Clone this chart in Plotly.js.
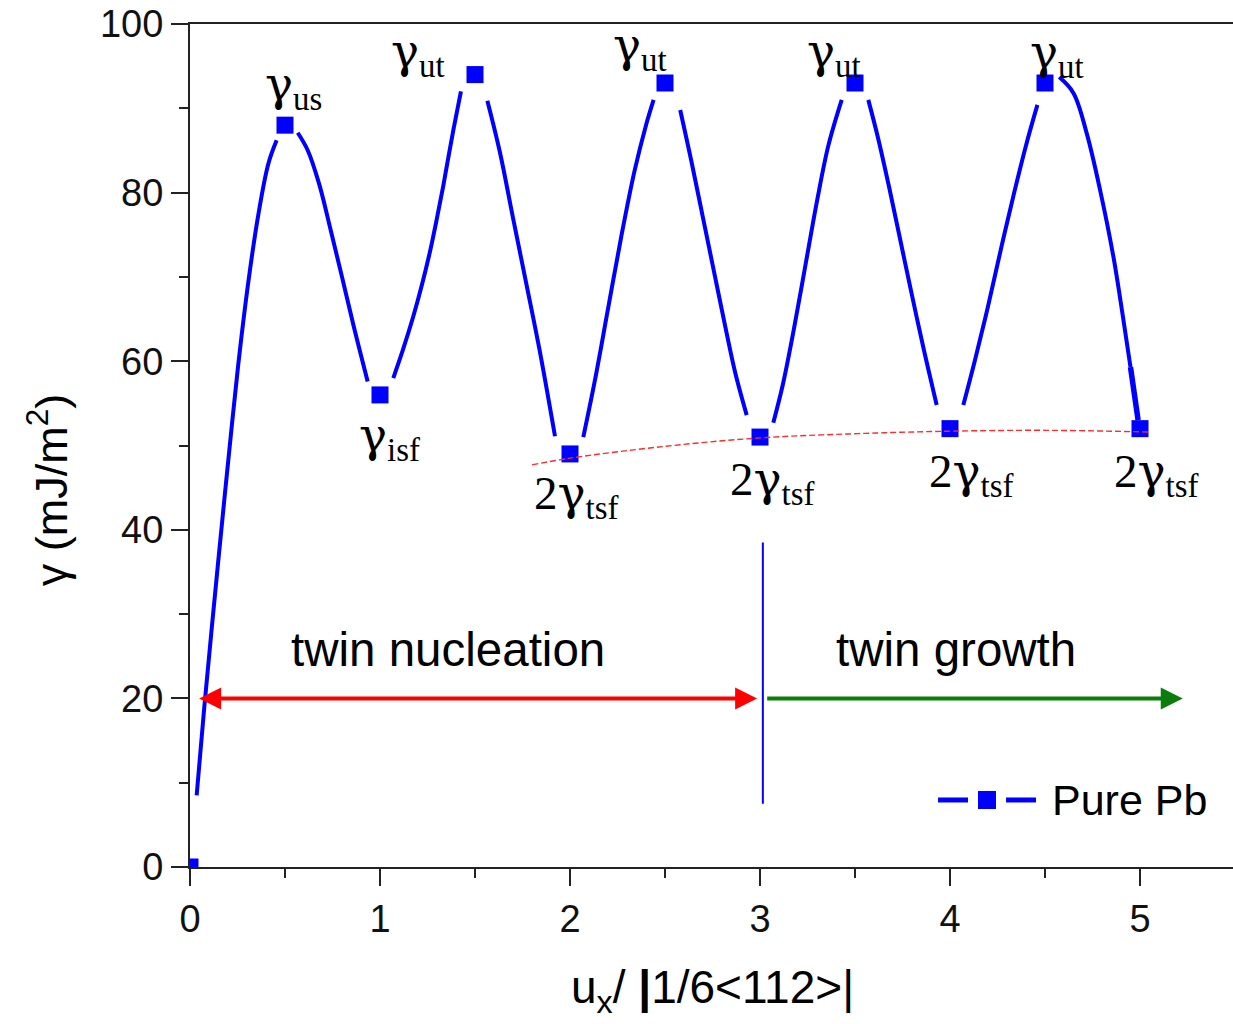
<!DOCTYPE html>
<html>
<head>
<meta charset="utf-8">
<script src="https://cdn.plot.ly/plotly-3.0.1.min.js"></script>
<style>
  html, body { margin: 0; padding: 0; background: #ffffff; overflow: hidden; }
  #chart { width: 1233px; height: 1024px; }
</style>
</head>
<body>
<div id="chart"></div>
<script>
// Generalized planar fault energy of pure Pb along the twinning path
const uX = [0, 0.5, 1, 1.5, 2, 2.5, 3, 3.5, 4, 4.5, 5];
const gammaPb = [0, 88, 56, 94, 49, 93, 51, 93, 52, 93, 52];

// Continuous energy curve, one piece between each pair of computed points
const curveX = [
  0.035, 0.075, 0.15, 0.20, 0.254, 0.307, 0.359, 0.412, 0.456, null,
  0.567, 0.62, 0.68, 0.74, 0.80, 0.86, 0.935, null,
  1.07, 1.12, 1.175, 1.22, 1.263, 1.30, 1.333, 1.36, 1.386, 1.426, null,
  1.565, 1.63, 1.70, 1.77, 1.84, 1.921, null,
  2.07, 2.13, 2.20, 2.27, 2.34, 2.40, 2.44, null,
  2.58, 2.64, 2.70, 2.76, 2.82, 2.87, 2.93, null,
  3.07, 3.12, 3.18, 3.24, 3.30, 3.36, 3.43, null,
  3.57, 3.62, 3.68, 3.74, 3.80, 3.86, 3.93, null,
  4.07, 4.13, 4.20, 4.27, 4.34, 4.40, 4.46, null,
  4.575, 4.65, 4.72, 4.79, 4.86, 4.91, 4.95
];
const curveY = [
  8.5, 18.9, 36.6, 47.9, 59.6, 69.4, 77.3, 83.4, 86.2, null,
  87.1, 85.0, 81.0, 75.6, 70.0, 64.3, 57.6, null,
  58.0, 61.3, 65.3, 69.0, 73.0, 77.0, 80.8, 84.2, 87.4, 92.0, null,
  90.9, 84.9, 77.0, 69.2, 61.3, 51.1, null,
  51.0, 57.6, 66.2, 74.8, 82.6, 88.0, 91.0, null,
  89.8, 83.6, 77.0, 70.4, 63.8, 58.6, 53.6, null,
  52.7, 57.2, 64.0, 71.5, 79.0, 85.6, 91.0, null,
  91.0, 86.6, 80.6, 74.2, 67.8, 61.6, 54.8, null,
  54.8, 60.0, 66.5, 73.5, 80.2, 85.6, 90.4, null,
  93.7, 91.8, 87.0, 80.3, 72.4, 65.3, 59.3
];
// Final steep drop into the last twin position
const tailX = [4.95, 4.99];
const tailY = [59.3, 53.0];

// Guide through the twin stacking fault minima
const tsfGuideX = [1.8, 2.0, 2.5, 3.0, 3.5, 4.0, 4.5, 5.05];
const tsfGuideY = [47.7, 48.5, 49.9, 50.9, 51.4, 51.7, 51.8, 51.6];

// Point labels (index into uX / gammaPb)
const labelIndex = [1, 2, 3, 4, 5, 6, 7, 8, 9, 10];
const labelPrefix = ['', '', '', '2', '', '2', '', '2', '', '2'];
const labelSub = ['us', 'isf', 'ut', 'tsf', 'ut', 'tsf', 'ut', 'tsf', 'ut', 'tsf'];
const labelShiftX = [8, 9, -57, 6, -25, 12, -21, 21, 12, 16];
const labelShiftY = [39, -43, 21, -42, 36, -44, 30, -45, 29, -45];

// Regime arrows and divider
const nucleationSpan = [0.04, 2.985];
const growthSpan = [3.03, 5.225];
const arrowLevel = 20;
const dividerX = 3.015;
const dividerSpan = [7.5, 38.5];
const regimeText = ['twin nucleation', 'twin growth'];
const regimeX = [1.36, 4.03];
const regimeY = [22.4, 22.4];

const blue = '#0000ff';
const serif = '"Liberation Serif", "Times New Roman", serif';
const greekSerif = '"DejaVu Serif", "Liberation Serif", serif';
const sans = '"Liberation Sans", Arial, sans-serif';

const traces = [
  {
    x: curveX, y: curveY, type: 'scatter', mode: 'lines',
    line: { color: blue, width: 4, shape: 'spline', smoothing: 1 },
    connectgaps: false, showlegend: false, hoverinfo: 'skip'
  },
  {
    x: tailX, y: tailY, type: 'scatter', mode: 'lines',
    line: { color: blue, width: 5.5 }, showlegend: false, hoverinfo: 'skip'
  },
  {
    x: uX, y: gammaPb, type: 'scatter', mode: 'markers', name: 'Pure Pb',
    marker: { symbol: 'square', size: 17, color: blue },
    cliponaxis: true, showlegend: false
  },
  {
    x: tsfGuideX, y: tsfGuideY, type: 'scatter', mode: 'lines',
    line: { color: '#ff2a2a', width: 1.4, dash: '6px,3px', shape: 'spline' },
    showlegend: false, hoverinfo: 'skip'
  }
];

const annotations = [];
labelIndex.forEach((idx, k) => {
  annotations.push({
    x: uX[idx], y: gammaPb[idx], xref: 'x', yref: 'y',
    text: labelPrefix[k] + '<span style="font-family:' + greekSerif.replace(/"/g, "'") + '">γ</span><sub>' + labelSub[k] + '</sub>',
    showarrow: false,
    xanchor: 'center', yanchor: 'middle',
    xshift: labelShiftX[k], yshift: labelShiftY[k],
    font: { family: serif, size: 47, color: '#000000' }
  });
});

// twin nucleation: double-headed red arrow
annotations.push({
  x: nucleationSpan[1], y: arrowLevel, ax: nucleationSpan[0], ay: arrowLevel,
  xref: 'x', yref: 'y', axref: 'x', ayref: 'y', text: '',
  showarrow: true, arrowhead: 2, arrowside: 'end+start', arrowsize: 1.1,
  arrowwidth: 4, arrowcolor: '#ff0000'
});
// twin growth: green arrow
annotations.push({
  x: growthSpan[1], y: arrowLevel, ax: growthSpan[0], ay: arrowLevel,
  xref: 'x', yref: 'y', axref: 'x', ayref: 'y', text: '',
  showarrow: true, arrowhead: 2, arrowsize: 1.1,
  arrowwidth: 4, arrowcolor: '#0b7d0b'
});
regimeText.forEach((t, k) => {
  annotations.push({
    x: regimeX[k], y: regimeY[k], xref: 'x', yref: 'y', text: t,
    showarrow: false, xanchor: 'center', yanchor: 'bottom',
    font: { family: sans, size: 47.5, color: '#000000' }
  });
});

// Axis titles
annotations.push({
  x: -0.136, y: 0.4472, xref: 'paper', yref: 'paper',
  text: 'γ (mJ/m<sup>2</sup>)', textangle: -90, showarrow: false,
  xanchor: 'center', yanchor: 'middle',
  font: { family: sans, size: 45, color: '#000000' }
});
annotations.push({
  x: 0.5005, y: -0.147, xref: 'paper', yref: 'paper',
  text: 'u<sub>x</sub>/ <b>|</b>1/6&lt;112&gt;|', showarrow: false,
  xanchor: 'center', yanchor: 'middle',
  font: { family: sans, size: 46, color: '#000000' }
});

// Legend entry
annotations.push({
  x: 0.8245, y: 0.0795, xref: 'paper', yref: 'paper', text: 'Pure Pb',
  showarrow: false, xanchor: 'left', yanchor: 'middle',
  font: { family: sans, size: 43, color: '#000000' }
});

// Source note running off the right edge
annotations.push({
  x: 1.0, y: -0.041, xref: 'paper', yref: 'paper',
  text: '<i>S</i><br><i>a</i><br><i>M</i>', showarrow: false,
  xanchor: 'left', yanchor: 'top', align: 'left', xshift: 31,
  font: { family: sans, size: 33, color: '#33339a' }
});

const shapes = [
  {
    type: 'line', xref: 'x', yref: 'y',
    x0: dividerX, x1: dividerX, y0: dividerSpan[0], y1: dividerSpan[1],
    line: { color: blue, width: 2 }
  },
  // legend symbol
  { type: 'line', xref: 'paper', yref: 'paper', x0: 0.7172, x1: 0.7459, y0: 0.0795, y1: 0.0795,
    line: { color: blue, width: 5 } },
  { type: 'line', xref: 'paper', yref: 'paper', x0: 0.7824, x1: 0.8111, y0: 0.0795, y1: 0.0795,
    line: { color: blue, width: 5 } },
  { type: 'rect', xref: 'paper', yref: 'paper', x0: 0.7555, x1: 0.7728, y0: 0.0688, y1: 0.0902,
    line: { width: 0 }, fillcolor: blue }
];

const layout = {
  width: 1233, height: 1024,
  margin: { l: 190, r: 0, t: 24, b: 157 },
  paper_bgcolor: '#ffffff', plot_bgcolor: '#ffffff',
  showlegend: false,
  xaxis: {
    range: [0, 5.4895], showgrid: false, zeroline: false,
    showline: true, linecolor: '#222222', linewidth: 2, mirror: true,
    ticks: 'outside', ticklen: 17, tickwidth: 2, tickcolor: '#222222',
    dtick: 1, tick0: 0,
    minor: { dtick: 0.5, ticks: 'outside', ticklen: 9, tickwidth: 2, tickcolor: '#222222', showgrid: false },
    tickfont: { family: sans, size: 38, color: '#111111' },
    fixedrange: true
  },
  yaxis: {
    range: [0, 100], showgrid: false, zeroline: false,
    showline: true, linecolor: '#222222', linewidth: 2, mirror: false,
    ticks: 'outside', ticklen: 17, tickwidth: 2, tickcolor: '#222222',
    dtick: 20, tick0: 0,
    minor: { dtick: 10, ticks: 'outside', ticklen: 9, tickwidth: 2, tickcolor: '#222222', showgrid: false },
    tickfont: { family: sans, size: 38, color: '#111111' },
    fixedrange: true
  },
  annotations: annotations,
  shapes: shapes
};

Plotly.newPlot('chart', traces, layout, { displayModeBar: false, staticPlot: true });
</script>
</body>
</html>
